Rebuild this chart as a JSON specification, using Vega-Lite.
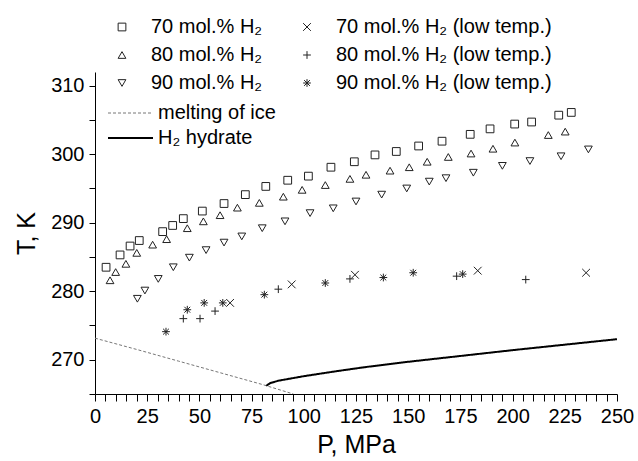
{
  "$schema": "https://vega.github.io/schema/vega-lite/v6.json",
  "autosize": {"type": "none"},
  "padding": {"left": 95, "top": 72, "right": 21, "bottom": 67},
  "width": 522,
  "height": 322,
  "background": "white",
  "config": {
    "view": {"stroke": null},
    "font": "Liberation Sans",
    "axis": {"grid": false, "domainColor": "#000", "tickColor": "#000", "labelColor": "#000", "titleColor": "#000", "labelFont": "Liberation Sans", "titleFont": "Liberation Sans", "labelFontSize": 20, "titleFontSize": 25, "titleFontWeight": "normal", "labelOverlap": false, "labelBound": false, "labelFlush": false}
  },
  "datasets": {
    "pts": [
      {"P": 5.3, "T": 283.5, "series": "70 mol.% H₂"},
      {"P": 12.0, "T": 285.3, "series": "70 mol.% H₂"},
      {"P": 16.8, "T": 286.6, "series": "70 mol.% H₂"},
      {"P": 21.2, "T": 287.4, "series": "70 mol.% H₂"},
      {"P": 32.4, "T": 288.7, "series": "70 mol.% H₂"},
      {"P": 37.2, "T": 289.6, "series": "70 mol.% H₂"},
      {"P": 42.3, "T": 290.6, "series": "70 mol.% H₂"},
      {"P": 51.4, "T": 291.7, "series": "70 mol.% H₂"},
      {"P": 61.8, "T": 292.8, "series": "70 mol.% H₂"},
      {"P": 72.0, "T": 294.1, "series": "70 mol.% H₂"},
      {"P": 81.8, "T": 295.3, "series": "70 mol.% H₂"},
      {"P": 92.3, "T": 296.2, "series": "70 mol.% H₂"},
      {"P": 102.2, "T": 296.8, "series": "70 mol.% H₂"},
      {"P": 113.0, "T": 298.1, "series": "70 mol.% H₂"},
      {"P": 124.2, "T": 298.9, "series": "70 mol.% H₂"},
      {"P": 134.1, "T": 299.9, "series": "70 mol.% H₂"},
      {"P": 144.3, "T": 300.4, "series": "70 mol.% H₂"},
      {"P": 155.0, "T": 301.2, "series": "70 mol.% H₂"},
      {"P": 166.2, "T": 301.9, "series": "70 mol.% H₂"},
      {"P": 179.7, "T": 302.9, "series": "70 mol.% H₂"},
      {"P": 189.2, "T": 303.7, "series": "70 mol.% H₂"},
      {"P": 201.0, "T": 304.4, "series": "70 mol.% H₂"},
      {"P": 209.1, "T": 304.7, "series": "70 mol.% H₂"},
      {"P": 222.1, "T": 305.7, "series": "70 mol.% H₂"},
      {"P": 228.1, "T": 306.1, "series": "70 mol.% H₂"},
      {"P": 7.2, "T": 281.6, "series": "80 mol.% H₂"},
      {"P": 9.9, "T": 282.8, "series": "80 mol.% H₂"},
      {"P": 14.8, "T": 284.0, "series": "80 mol.% H₂"},
      {"P": 20.0, "T": 285.6, "series": "80 mol.% H₂"},
      {"P": 27.6, "T": 286.8, "series": "80 mol.% H₂"},
      {"P": 34.3, "T": 287.6, "series": "80 mol.% H₂"},
      {"P": 44.2, "T": 289.2, "series": "80 mol.% H₂"},
      {"P": 51.9, "T": 290.2, "series": "80 mol.% H₂"},
      {"P": 59.9, "T": 291.1, "series": "80 mol.% H₂"},
      {"P": 68.2, "T": 292.2, "series": "80 mol.% H₂"},
      {"P": 78.7, "T": 292.9, "series": "80 mol.% H₂"},
      {"P": 90.2, "T": 293.8, "series": "80 mol.% H₂"},
      {"P": 99.2, "T": 294.8, "series": "80 mol.% H₂"},
      {"P": 110.3, "T": 295.5, "series": "80 mol.% H₂"},
      {"P": 122.1, "T": 296.4, "series": "80 mol.% H₂"},
      {"P": 129.8, "T": 297.0, "series": "80 mol.% H₂"},
      {"P": 141.3, "T": 297.6, "series": "80 mol.% H₂"},
      {"P": 150.5, "T": 298.1, "series": "80 mol.% H₂"},
      {"P": 159.1, "T": 298.9, "series": "80 mol.% H₂"},
      {"P": 169.2, "T": 299.6, "series": "80 mol.% H₂"},
      {"P": 180.1, "T": 300.1, "series": "80 mol.% H₂"},
      {"P": 190.6, "T": 300.8, "series": "80 mol.% H₂"},
      {"P": 201.1, "T": 301.7, "series": "80 mol.% H₂"},
      {"P": 217.1, "T": 302.8, "series": "80 mol.% H₂"},
      {"P": 225.2, "T": 303.3, "series": "80 mol.% H₂"},
      {"P": 20.3, "T": 278.9, "series": "90 mol.% H₂"},
      {"P": 23.9, "T": 280.1, "series": "90 mol.% H₂"},
      {"P": 30.3, "T": 281.8, "series": "90 mol.% H₂"},
      {"P": 37.5, "T": 283.5, "series": "90 mol.% H₂"},
      {"P": 45.2, "T": 284.9, "series": "90 mol.% H₂"},
      {"P": 53.2, "T": 286.0, "series": "90 mol.% H₂"},
      {"P": 61.8, "T": 287.1, "series": "90 mol.% H₂"},
      {"P": 70.3, "T": 288.0, "series": "90 mol.% H₂"},
      {"P": 80.1, "T": 289.2, "series": "90 mol.% H₂"},
      {"P": 91.0, "T": 290.2, "series": "90 mol.% H₂"},
      {"P": 103.0, "T": 291.4, "series": "90 mol.% H₂"},
      {"P": 114.1, "T": 292.1, "series": "90 mol.% H₂"},
      {"P": 125.0, "T": 293.1, "series": "90 mol.% H₂"},
      {"P": 137.3, "T": 294.1, "series": "90 mol.% H₂"},
      {"P": 149.3, "T": 295.0, "series": "90 mol.% H₂"},
      {"P": 160.1, "T": 296.0, "series": "90 mol.% H₂"},
      {"P": 168.1, "T": 296.5, "series": "90 mol.% H₂"},
      {"P": 181.2, "T": 297.3, "series": "90 mol.% H₂"},
      {"P": 195.1, "T": 298.3, "series": "90 mol.% H₂"},
      {"P": 208.3, "T": 299.0, "series": "90 mol.% H₂"},
      {"P": 223.2, "T": 299.7, "series": "90 mol.% H₂"},
      {"P": 236.3, "T": 300.7, "series": "90 mol.% H₂"},
      {"P": 64.7, "T": 278.3, "series": "70 mol.% H₂ (low temp.)"},
      {"P": 94.2, "T": 281.0, "series": "70 mol.% H₂ (low temp.)"},
      {"P": 124.5, "T": 282.4, "series": "70 mol.% H₂ (low temp.)"},
      {"P": 183.3, "T": 283.0, "series": "70 mol.% H₂ (low temp.)"},
      {"P": 235.2, "T": 282.7, "series": "70 mol.% H₂ (low temp.)"},
      {"P": 42.3, "T": 276.0, "series": "80 mol.% H₂ (low temp.)"},
      {"P": 50.3, "T": 276.0, "series": "80 mol.% H₂ (low temp.)"},
      {"P": 57.5, "T": 277.1, "series": "80 mol.% H₂ (low temp.)"},
      {"P": 87.8, "T": 280.3, "series": "80 mol.% H₂ (low temp.)"},
      {"P": 122.1, "T": 281.8, "series": "80 mol.% H₂ (low temp.)"},
      {"P": 173.2, "T": 282.2, "series": "80 mol.% H₂ (low temp.)"},
      {"P": 206.3, "T": 281.7, "series": "80 mol.% H₂ (low temp.)"},
      {"P": 34.0, "T": 274.1, "series": "90 mol.% H₂ (low temp.)"},
      {"P": 44.2, "T": 277.3, "series": "90 mol.% H₂ (low temp.)"},
      {"P": 52.3, "T": 278.3, "series": "90 mol.% H₂ (low temp.)"},
      {"P": 61.2, "T": 278.3, "series": "90 mol.% H₂ (low temp.)"},
      {"P": 81.1, "T": 279.5, "series": "90 mol.% H₂ (low temp.)"},
      {"P": 110.3, "T": 281.2, "series": "90 mol.% H₂ (low temp.)"},
      {"P": 138.1, "T": 282.0, "series": "90 mol.% H₂ (low temp.)"},
      {"P": 152.4, "T": 282.7, "series": "90 mol.% H₂ (low temp.)"},
      {"P": 176.1, "T": 282.5, "series": "90 mol.% H₂ (low temp.)"}
    ],
    "curves": [
      {"P": 0, "T": 273.15, "curve": "melting of ice"},
      {"P": 20, "T": 271.5, "curve": "melting of ice"},
      {"P": 40, "T": 269.8, "curve": "melting of ice"},
      {"P": 60, "T": 268.1, "curve": "melting of ice"},
      {"P": 80, "T": 266.4, "curve": "melting of ice"},
      {"P": 95, "T": 265.0, "curve": "melting of ice"},
      {"P": 82, "T": 266.2, "curve": "H₂ hydrate"},
      {"P": 84, "T": 266.6, "curve": "H₂ hydrate"},
      {"P": 88, "T": 266.95, "curve": "H₂ hydrate"},
      {"P": 100, "T": 267.6, "curve": "H₂ hydrate"},
      {"P": 115, "T": 268.3, "curve": "H₂ hydrate"},
      {"P": 130, "T": 268.95, "curve": "H₂ hydrate"},
      {"P": 150, "T": 269.7, "curve": "H₂ hydrate"},
      {"P": 175, "T": 270.55, "curve": "H₂ hydrate"},
      {"P": 200, "T": 271.4, "curve": "H₂ hydrate"},
      {"P": 225, "T": 272.2, "curve": "H₂ hydrate"},
      {"P": 250, "T": 273.0, "curve": "H₂ hydrate"}
    ]
  },
  "encoding": {
    "x": {"field": "P", "type": "quantitative", "title": "P, MPa",
      "scale": {"domain": [0, 250], "nice": false, "zero": false},
      "axis": {"values": [0,5,10,15,20,25,30,35,40,45,50,55,60,65,70,75,80,85,90,95,100,105,110,115,120,125,130,135,140,145,150,155,160,165,170,175,180,185,190,195,200,205,210,215,220,225,230,235,240,245,250],
        "labelExpr": "datum.value % 25 === 0 ? datum.label : ''", "tickSize": 7, "labelPadding": 5, "titlePadding": 6,
        "encode": {"ticks": {"update": {"y2": {"signal": "datum.value % 25 === 0 ? 7 : 4"}}}}}},
    "y": {"field": "T", "type": "quantitative", "title": "T, K",
      "scale": {"domain": [265, 312], "nice": false, "zero": false},
      "axis": {"values": [265,270,275,280,285,290,295,300,305,310],
        "labelExpr": "datum.value % 10 === 0 ? datum.label : ''", "tickSize": 6, "labelPadding": 5, "titlePadding": 11,
        "encode": {"ticks": {"update": {"x2": {"signal": "datum.value % 10 === 0 ? -6 : -3"}}}}}}
  },
  "layer": [
    {
      "data": {"name": "curves"},
      "mark": {"type": "line", "clip": true},
      "encoding": {
        "strokeDash": {"field": "curve", "type": "nominal",
          "scale": {"domain": ["melting of ice", "H₂ hydrate"], "range": [[3, 2], [1, 0]]},
          "legend": {"orient": "none", "legendX": 12, "legendY": 31, "title": null, "symbolType": "stroke", "symbolSize": 2025, "clipHeight": 20, "labelFontSize": 20, "labelFont": "Liberation Sans", "labelColor": "#000", "labelOffset": 4, "rowPadding": 5, "padding": 0}},
        "color": {"field": "curve", "type": "nominal",
          "scale": {"domain": ["melting of ice", "H₂ hydrate"], "range": ["#777777", "#000000"]}},
        "strokeWidth": {"field": "curve", "type": "nominal",
          "scale": {"domain": ["melting of ice", "H₂ hydrate"], "range": [1, 2]}}
      }
    },
    {
      "data": {"name": "pts"},
      "mark": {"type": "point", "filled": false, "stroke": "#222", "strokeWidth": 1, "opacity": 1, "size": 60},
      "encoding": {
        "shape": {"field": "series", "type": "nominal",
          "scale": {"domain": ["70 mol.% H₂", "80 mol.% H₂", "90 mol.% H₂", "70 mol.% H₂ (low temp.)", "80 mol.% H₂ (low temp.)", "90 mol.% H₂ (low temp.)"],
            "range": ["square", "triangle-up", "triangle-down", "M-1,-1L1,1M-1,1L1,-1", "M-1,0L1,0M0,-1L0,1", "M-0.75,-0.75L0.75,0.75M-0.75,0.75L0.75,-0.75M-1,0L1,0M0,-1L0,1"]},
          "legend": {"orient": "none", "direction": "vertical", "legendX": 17, "legendY": -55, "title": null, "columns": 2, "columnPadding": 34, "rowPadding": 8, "labelFontSize": 20, "labelFont": "Liberation Sans", "labelColor": "#000", "labelOffset": 19, "labelLimit": 400, "symbolStrokeColor": "#222", "symbolStrokeWidth": 1, "symbolSize": 60, "padding": 0}}
      }
    }
  ]
}
